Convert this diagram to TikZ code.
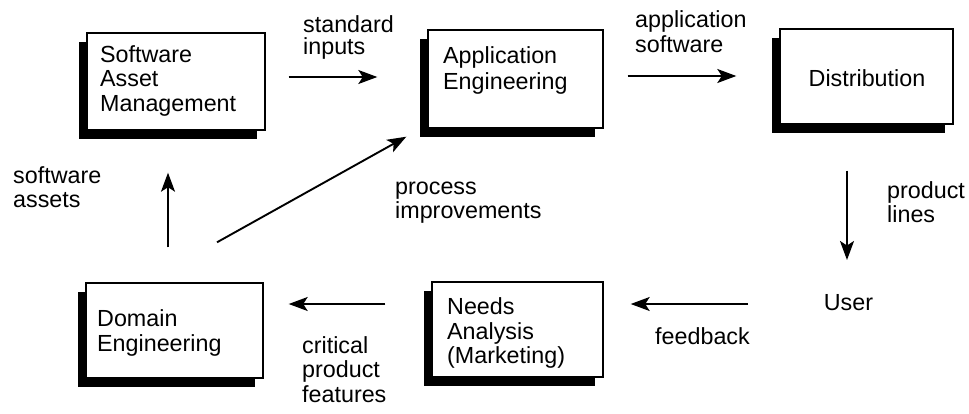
\documentclass[tikz,border=0pt]{standalone}
\usepackage{fontspec}
\setmainfont{Liberation Sans}
\usetikzlibrary{arrows.meta,shadows}
\newcommand\mylines[1]{\begin{tabular}[t]{@{}l@{}}#1\end{tabular}}
\begin{document}
\begin{tikzpicture}[x=1pt,y=-1pt,
  box/.style={draw=black, fill=white, line width=1.4pt, inner sep=0pt,
    drop shadow={shadow xshift=-8.5pt, shadow yshift=-8.5pt, opacity=1, fill=black}},
  txt/.style={font=\fontsize{23.3}{24.5}\selectfont, inner sep=0pt, anchor=base west},
  arr/.style={line width=1.9pt, -{Stealth[length=19pt,width=14pt,inset=4.5pt]}}]
\useasboundingbox[fill=white] (0,0) rectangle (969,413);
% boxes
\node[box, minimum width=178pt, minimum height=97pt] (sam) at (176,81.5) {};
\node[box, minimum width=175pt, minimum height=98pt] (ae) at (515.5,79) {};
\node[box, minimum width=173pt, minimum height=95pt] (dist) at (866.5,76.5) {};
\node[box, minimum width=177pt, minimum height=95pt] (de) at (174.5,330.5) {};
\node[box, minimum width=171pt, minimum height=95pt] (na) at (517.5,329.5) {};
% box texts
\node[txt] (samt) at (100,62) {\mylines{Software\\Asset\\Management}};
\node[txt] (aet) at (443,63) {\mylines{Application\\[2pt]Engineering}};
\node[txt, anchor=base] (distt) at (867,86) {Distribution};
\node[txt] (det) at (97,326.5) {\mylines{Domain\\Engineering}};
\node[txt] (nat) at (447,314.5) {\mylines{Needs\\Analysis\\(Marketing)}};
\node[txt, anchor=center] (user) at (848.5,302.5) {User};
% labels
\node[txt] (l1) at (303,32) {\mylines{standard\\[-2pt]inputs}};
\node[txt] (l2) at (635,27.5) {\mylines{application\\software}};
\node[txt] (l3) at (887,198) {\mylines{product\\lines}};
\node[txt] (l4) at (655,344) {feedback};
\node[txt] (l5) at (302,353) {\mylines{critical\\product\\features}};
\node[txt] (l6) at (13,183) {\mylines{software\\assets}};
\node[txt] (l7) at (395,194) {\mylines{process\\improvements}};
% connectors
\draw[arr] ([shift={(23,-4.5)}]sam.east) -- ([shift={(-50,-2)}]ae.west);
\draw[arr] ([shift={(24,-3)}]ae.east) -- ([shift={(-43,-0.5)}]dist.west);
\draw[arr] ([shift={(-19.5,46)}]dist.south) -- ([shift={(-1.5,-42.5)}]user.center);
\draw[arr] ([shift={(-100.5,1.5)}]user.center) -- ([shift={(27,-25.5)}]na.east);
\draw[arr] ([shift={(-46,-25.5)}]na.west) -- ([shift={(25,-26.5)}]de.east);
\draw[arr] ([shift={(-6.5,-35)}]de.north) -- ([shift={(-8,42)}]sam.south);
\draw[arr] ([shift={(42.5,-40)}]de.north) -- ([shift={(-21,8)}]ae.south west);
\end{tikzpicture}
\end{document}
